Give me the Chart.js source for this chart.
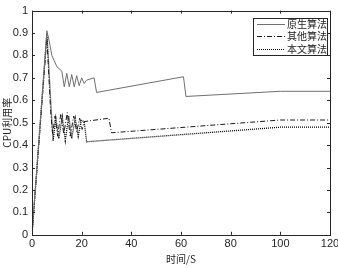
<!DOCTYPE html>
<html>
<head>
<meta charset="utf-8">
<script src="https://cdn.jsdelivr.net/npm/chart.js@4.4.0/dist/chart.umd.min.js"></script>
<style>
  html, body { margin: 0; padding: 0; background: #fff; }
  #wrap { width: 338px; height: 268px; position: relative; }
</style>
</head>
<body>
<div id="wrap"><canvas id="cpuChart"></canvas></div>
<script>
// ── Data ──────────────────────────────────────────────────────────────
const seriesNames = ['原生算法', '其他算法', '本文算法'];

const nativeT = [0, 6, 7, 8, 10, 12, 13, 14, 15, 16, 17, 18, 19, 20, 21, 22, 25, 26, 61, 62, 100, 120];
const nativeV = [0, 0.91, 0.86, 0.80, 0.75, 0.73, 0.66, 0.72, 0.66, 0.715, 0.66, 0.71, 0.665, 0.70, 0.675, 0.69, 0.70, 0.635, 0.705, 0.617, 0.64, 0.64];

const otherT = [0, 6, 7.5, 8.3, 9.3, 10.3, 11.6, 12.8, 14.2, 15.4, 16.8, 18, 19.2, 20.2, 21, 31, 32, 100, 120];
const otherV = [0, 0.88, 0.55, 0.45, 0.53, 0.44, 0.54, 0.45, 0.545, 0.44, 0.53, 0.46, 0.52, 0.47, 0.505, 0.52, 0.455, 0.512, 0.512];

const oursT = [0, 6, 7.5, 8.5, 9.6, 10.8, 12.2, 13.4, 14.8, 16, 17.4, 18.6, 19.8, 21, 22, 100, 120];
const oursV = [0, 0.90, 0.60, 0.42, 0.52, 0.43, 0.525, 0.42, 0.53, 0.43, 0.52, 0.44, 0.51, 0.505, 0.415, 0.48, 0.48];

const xTicks = [0, 20, 40, 60, 80, 100, 120];
const yTicks = [0, 0.1, 0.2, 0.3, 0.4, 0.5, 0.6, 0.7, 0.8, 0.9, 1];

const toPoints = (ts, vs) => ts.map((t, i) => ({ x: t, y: vs[i] }));

// ── Inward ticks on all four sides, MATLAB style ─────────────────────
const boxTicks = {
  id: 'boxTicks',
  afterDraw(chart) {
    const { ctx, chartArea: a, scales } = chart;
    ctx.save();
    ctx.strokeStyle = '#262626';
    ctx.lineWidth = 1;
    ctx.beginPath();
    xTicks.forEach(v => {
      const px = Math.round(scales.x.getPixelForValue(v)) + 0.5;
      ctx.moveTo(px, a.bottom); ctx.lineTo(px, a.bottom - 3);
      ctx.moveTo(px, a.top);    ctx.lineTo(px, a.top + 3);
    });
    yTicks.forEach(v => {
      const py = Math.round(scales.y.getPixelForValue(v)) + 0.5;
      ctx.moveTo(a.left, py);  ctx.lineTo(a.left + 3, py);
      ctx.moveTo(a.right, py); ctx.lineTo(a.right - 3, py);
    });
    ctx.stroke();
    ctx.strokeRect(Math.round(a.left) + 0.5, Math.round(a.top) + 0.5,
                   Math.round(a.right - a.left), Math.round(a.bottom - a.top));
    ctx.restore();
  }
};

// ── Boxed legend in the top right corner ─────────────────────────────
const boxLegend = {
  id: 'boxLegend',
  afterDraw(chart) {
    const { ctx, chartArea: a } = chart;
    const w = 74, h = 37;
    const x0 = a.right - 3 - w, y0 = a.top + 7;
    ctx.save();
    ctx.fillStyle = '#fff';
    ctx.fillRect(x0, y0, w, h);
    ctx.strokeStyle = '#262626';
    ctx.lineWidth = 1;
    ctx.strokeRect(Math.round(x0) + 0.5, Math.round(y0) + 0.5, w, h);
    ctx.font = '10px "Noto Sans CJK SC"';
    ctx.textBaseline = 'middle';
    ctx.fillStyle = '#222';
    chart.data.datasets.forEach((ds, i) => {
      const yy = Math.round(y0 + 6 + i * 12.5) + 0.5;
      ctx.strokeStyle = ds.borderColor;
      ctx.setLineDash(ds.borderDash || []);
      ctx.beginPath();
      ctx.moveTo(x0 + 4, yy); ctx.lineTo(x0 + 32, yy);
      ctx.stroke();
      ctx.setLineDash([]);
      ctx.fillText(ds.label, x0 + 34, yy);
    });
    ctx.restore();
  }
};

new Chart(document.getElementById('cpuChart'), {
  type: 'line',
  data: {
    datasets: [
      { label: seriesNames[0], data: toPoints(nativeT, nativeV), borderColor: '#707070', borderWidth: 1 },
      { label: seriesNames[1], data: toPoints(otherT, otherV), borderColor: '#1a1a1a', borderWidth: 1, borderDash: [5, 2, 1, 2] },
      { label: seriesNames[2], data: toPoints(oursT, oursV), borderColor: '#000', borderWidth: 1.3, borderDash: [1, 1] },
    ],
  },
  options: {
    responsive: true,
    maintainAspectRatio: false,
    animation: false,
    elements: { point: { radius: 0 }, line: { tension: 0 } },
    layout: { padding: { top: 5, right: 8, left: 0, bottom: 3 } },
    plugins: { legend: { display: false }, tooltip: { enabled: false } },
    scales: {
      x: {
        type: 'linear',
        min: 0, max: 120,
        afterBuildTicks: s => { s.ticks = xTicks.map(v => ({ value: v })); },
        afterFit: s => { s.paddingRight = 0; s.paddingLeft = 0; },
        grid: { display: false, drawTicks: false },
        border: { display: false },
        ticks: { color: '#262626', font: { family: 'Liberation Sans', size: 11 }, padding: 3, maxRotation: 0 },
        title: { display: true, text: '时间/S', color: '#262626', font: { family: '"Noto Sans CJK SC"', size: 10, lineHeight: 1.1 }, padding: { top: 0, bottom: 0 } },
      },
      y: {
        min: 0, max: 1,
        afterBuildTicks: s => { s.ticks = yTicks.map(v => ({ value: v })); },
        afterFit: s => { s.width = 32; },
        grid: { display: false, drawTicks: false },
        border: { display: false },
        ticks: { color: '#262626', font: { family: 'Liberation Sans', size: 11 }, padding: 4,
                 callback: v => (v === 0 || v === 1) ? String(v) : v.toFixed(1) },
        title: { display: true, text: 'CPU利用率', color: '#262626', font: { family: '"Noto Sans CJK SC"', size: 10, lineHeight: 1.1 }, padding: { top: 2, bottom: 0 } },
      },
    },
  },
  plugins: [boxTicks, boxLegend],
});
</script>
</body>
</html>
